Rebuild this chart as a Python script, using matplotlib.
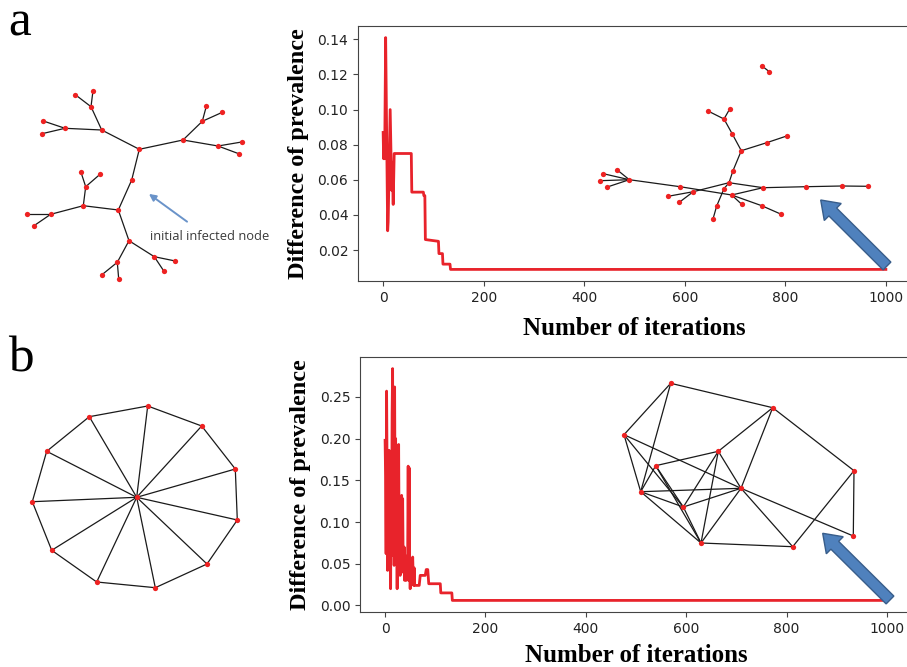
import matplotlib

matplotlib.use("Agg")

import matplotlib.pyplot as plt
from matplotlib.patches import FancyArrow

# prevalence difference per iteration, tree network (breakpoints of the curve)
tree_iter = [0, 1, 2, 3, 5, 9, 10, 14, 17, 18, 20, 22, 23, 56, 57, 80, 81, 83, 84,
             110, 111, 118, 119, 133, 134, 1000]
tree_diff = [0.087, 0.072, 0.085, 0.072, 0.141, 0.031, 0.036, 0.100, 0.054, 0.070,
             0.046, 0.075, 0.075, 0.075, 0.053, 0.053, 0.051, 0.051, 0.026, 0.025,
             0.018, 0.018, 0.012, 0.012, 0.009, 0.009]

# prevalence difference per iteration, wheel network
wheel_iter = list(range(61)) + [68, 70, 80, 82, 85, 87, 110, 111, 133, 134, 1000]
wheel_diff = [0.198, 0.155, 0.062, 0.257, 0.160, 0.042, 0.145, 0.100, 0.186, 0.050,
              0.180, 0.020, 0.150, 0.090, 0.230, 0.284, 0.060, 0.240, 0.048, 0.262,
              0.100, 0.200, 0.060, 0.164, 0.020, 0.150, 0.048, 0.193, 0.070, 0.120,
              0.036, 0.110, 0.045, 0.132, 0.040, 0.128, 0.050, 0.040, 0.070, 0.030,
              0.060, 0.040, 0.030, 0.050, 0.035, 0.060, 0.167, 0.030, 0.165, 0.040,
              0.020, 0.040, 0.030, 0.025, 0.040, 0.058, 0.035, 0.024, 0.045, 0.024,
              0.024,
              0.024, 0.036, 0.036, 0.043, 0.043, 0.026, 0.026, 0.015, 0.015, 0.006, 0.006]

tree_yticks = [0.02, 0.04, 0.06, 0.08, 0.10, 0.12, 0.14]
wheel_yticks = [0.00, 0.05, 0.10, 0.15, 0.20, 0.25]
xticks = [0, 200, 400, 600, 800, 1000]

# network layouts (pixel positions on the page) and edge lists
tree_nodes = [(139.3, 149.3), (131.7, 180), (118.3, 210), (101.7, 130), (91, 106.7),
              (75.3, 94.7), (93, 90.7), (65, 128.3), (43.3, 121), (42, 133.7),
              (183, 140), (202.3, 121.3), (206.3, 106.3), (222.3, 112.3), (218, 146),
              (241.7, 142), (238.7, 153.7), (83.3, 205.7), (85.7, 186.7), (81, 172.3),
              (100, 174.3), (50.7, 214.3), (27, 214.3), (34, 225.7), (129, 240.7),
              (154.3, 256.7), (175.3, 261), (164, 271.3), (117.3, 262.3), (102, 274.7),
              (118.7, 279)]
tree_edges = [(0, 1), (1, 2), (0, 3), (3, 4), (4, 5), (4, 6), (3, 7), (7, 8), (7, 9),
              (0, 10), (10, 11), (11, 12), (11, 13), (10, 14), (14, 15), (14, 16),
              (2, 17), (17, 18), (18, 19), (18, 20), (17, 21), (21, 22), (21, 23),
              (2, 24), (24, 25), (25, 26), (25, 27), (24, 28), (28, 29), (28, 30)]

final_tree_nodes = [(761.7, 65.7), (769.3, 71.7), (741.3, 150.7), (732.3, 134), (724, 119),
                    (708, 111), (729.7, 109), (766.7, 142.7), (786.7, 136), (733, 170.7),
                    (729, 182.7), (724, 188.7), (716.7, 206), (713, 219), (629.3, 179.7),
                    (617.3, 170), (603.3, 173.7), (600, 180.7), (607.3, 187), (680, 186.7),
                    (731.7, 195), (761.7, 205.7), (781.3, 214.3), (693.3, 191.7),
                    (668, 196.3), (679.3, 202.3), (763, 187.7), (806, 186.7),
                    (841.7, 186), (868.3, 186.3), (741.7, 204.3)]
final_tree_edges = [(0, 1), (2, 3), (3, 4), (4, 5), (4, 6), (2, 7), (7, 8), (2, 9), (9, 10),
                    (10, 11), (11, 12), (12, 13), (10, 23), (23, 24), (23, 25), (10, 26),
                    (14, 15), (14, 16), (14, 17), (14, 18), (14, 19), (19, 20), (20, 26),
                    (20, 30), (20, 21), (21, 22), (26, 27), (27, 28), (28, 29)]

wheel_nodes = [(136.7, 497.3), (147.7, 406), (201.7, 426), (235.3, 469), (237.3, 520),
               (207, 564), (155.3, 587.7), (96.7, 582), (51.7, 550.3), (32.3, 501.7),
               (46.7, 451.3), (89.3, 416.7)]
wheel_edges = [(0, k) for k in range(1, 12)] + [(k, k % 11 + 1) for k in range(1, 12)]

final_wheel_nodes = [(670.7, 383.3), (772.7, 407.7), (624, 434.7), (718.3, 451.3),
                     (655.7, 465.7), (854, 470.7), (640.7, 491.7), (741, 488.3),
                     (683.3, 507), (853.3, 536), (701, 543), (792.7, 546.7)]
final_wheel_edges = [(0, 1), (0, 2), (0, 6), (1, 3), (1, 7), (1, 5), (2, 6), (2, 8), (2, 7),
                     (3, 4), (3, 8), (3, 10), (3, 7), (4, 6), (4, 8), (4, 10), (6, 7), (6, 8),
                     (6, 10), (7, 8), (7, 10), (7, 11), (7, 9), (5, 9), (5, 11), (10, 11),
                     (8, 10)]

# arrows: (tail, head)
small_arrow = ((189.3, 223.3), (146.7, 192.3))
big_arrows = [((887, 266), (820.7, 200)), ((890, 600), (822.7, 533.3))]

W, H = 907, 667
RED = '#e8232b'


def draw_network(ax, nodes, edges):
    for i, j in edges:
        ax.plot([nodes[i][0], nodes[j][0]], [nodes[i][1], nodes[j][1]],
                color='#1a1a1a', lw=0.9, zorder=2)
    ax.plot([p[0] for p in nodes], [p[1] for p in nodes], 'o', color='#ee2222',
            ms=3.8, mec='none', zorder=3)


def chart(rect, xs, ys, yticks, xlabelpad):
    ax = fig.add_axes(rect)
    ax.plot(xs, ys, color=RED, lw=2.0)
    ax.set_xticks(xticks)
    ax.set_yticks(yticks)
    ax.set_yticklabels(['%.2f' % t for t in yticks])
    ax.tick_params(labelsize=10, colors='#222222', length=3.5, color='#444444')
    for s in ax.spines.values():
        s.set_color('#444444')
    ax.set_ylabel('Difference of prevalence', fontfamily='Liberation Serif',
                  fontweight='bold', fontsize=17.5, labelpad=6)
    ax.set_xlabel('Number of iterations', fontfamily='Liberation Serif',
                  fontweight='bold', fontsize=18, labelpad=xlabelpad)
    return ax


fig = plt.figure(figsize=(W / 100, H / 100), dpi=100)

chart([358 / W, 1 - 281 / H, 553 / W, 255 / H], tree_iter, tree_diff, tree_yticks, 9)
chart([360 / W, 1 - 612 / H, 552 / W, 255 / H], wheel_iter, wheel_diff, wheel_yticks, 6)

# overlay in page pixels for the networks, arrows and panel letters
ov = fig.add_axes([0, 0, 1, 1], zorder=5)
ov.set_xlim(0, W)
ov.set_ylim(H, 0)
ov.axis('off')
ov.patch.set_alpha(0)

draw_network(ov, tree_nodes, tree_edges)
draw_network(ov, final_tree_nodes, final_tree_edges)
draw_network(ov, wheel_nodes, wheel_edges)
draw_network(ov, final_wheel_nodes, final_wheel_edges)

ov.annotate('', xy=small_arrow[1], xytext=small_arrow[0],
            arrowprops=dict(arrowstyle='-|>', color='#6a93c9', lw=1.4, mutation_scale=10))
ov.text(150, 237, 'initial infected node', fontfamily='Open Sans', fontsize=9.3,
        color='#3a3a3a', va='center')

for tail, head in big_arrows:
    ov.add_patch(FancyArrow(tail[0], tail[1], head[0] - tail[0], head[1] - tail[1],
                            width=11, head_width=24, head_length=17,
                            length_includes_head=True, fc='#4f81bd', ec='#385d8a', lw=1))

ov.text(8, 35, 'a', fontfamily='Liberation Serif', fontsize=37, color='black')
ov.text(8, 372, 'b', fontfamily='Liberation Serif', fontsize=37, color='black')

fig.savefig('out.png', dpi=100)
